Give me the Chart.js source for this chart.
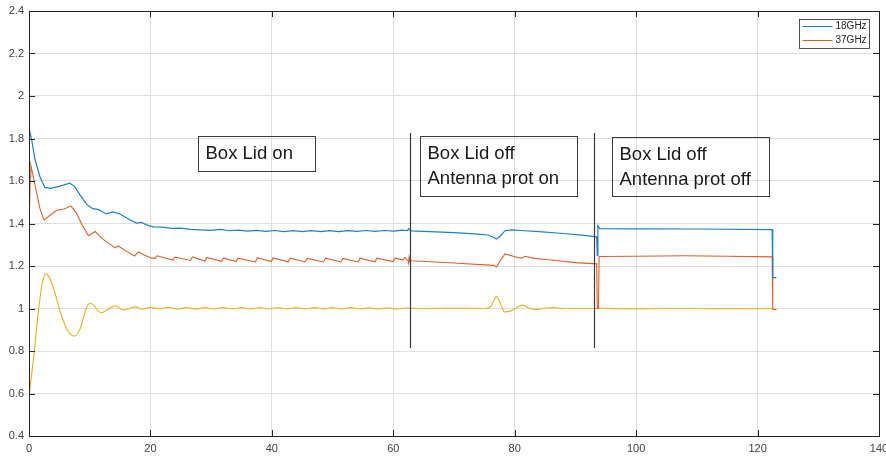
<!DOCTYPE html>
<html>
<head>
<meta charset="utf-8">
<script src="https://cdn.jsdelivr.net/npm/chart.js@4"></script>
<style>
  html, body { margin: 0; padding: 0; background: #fff; }
  #wrap { width: 886px; height: 456px; }
</style>
</head>
<body>
<div id="wrap"><canvas id="chart" width="886" height="456"></canvas></div>
<script>
// ------------------ Data ------------------
const xTicks = [0, 20, 40, 60, 80, 100, 120, 140];
const yTicks = [0.4, 0.6, 0.8, 1, 1.2, 1.4, 1.6, 1.8, 2, 2.2, 2.4];
const seriesNames = ["18GHz", "37GHz", ""];

// 18GHz (blue)
const blueX = [0, 0.4, 1, 1.8, 2.6, 3.5, 5, 6.7, 7.5, 8.5, 9.5, 10.5, 11.5, 12.7, 13.8, 15, 16.6, 17.7, 18.5, 19.5,
  20.5, 22, 23.5, 25, 26.5, 28.2, 30, 31.5, 33, 34.5, 36, 37.5, 39, 40.5, 42, 43.5, 45, 46.5, 48, 49.5,
  51, 52.5, 54, 55.5, 57, 58.5, 60, 61.5, 62.3, 62.5, 62.7, 63, 66, 70, 74, 75.6, 76.5, 77, 77.6, 78.4,
  79.5, 81, 84, 88, 91, 93.5, 93.6, 93.7, 94, 100, 110, 122.4, 122.5, 123.1];
const blueY = [1.85, 1.80, 1.70, 1.62, 1.57, 1.565, 1.575, 1.59, 1.575, 1.53, 1.49, 1.47, 1.465, 1.445, 1.455, 1.445, 1.418, 1.402, 1.405, 1.392,
  1.384, 1.383, 1.377, 1.378, 1.372, 1.37, 1.368, 1.372, 1.366, 1.369, 1.364, 1.368, 1.363, 1.367, 1.362, 1.366, 1.362, 1.366, 1.362, 1.366,
  1.362, 1.366, 1.363, 1.367, 1.363, 1.367, 1.364, 1.369, 1.366, 1.376, 1.368, 1.365, 1.362, 1.357, 1.35, 1.346, 1.335, 1.327, 1.34, 1.366,
  1.37, 1.367, 1.362, 1.353, 1.345, 1.337, 1.25, 1.39, 1.376, 1.375, 1.374, 1.371, 1.145, 1.145];

// 37GHz (orange)
const orangeX = [0, 0.05, 0.1, 0.2, 0.3, 1, 1.8, 2.5, 3.5, 4.6, 5.8, 6.9, 7.8, 8.8, 9.8, 10.9, 12, 13, 14.2, 14.7,
  16, 17.4, 18, 19, 20.2, 20.8, 21.1, 23.7, 24, 26.6, 26.9, 29, 29.3, 31.7, 32, 34.1, 34.4, 37.3, 37.6, 39.9,
  40.2, 42.7, 43, 45.5, 45.8, 48.5, 48.8, 51.4, 51.7, 54.2, 54.5, 57, 57.3, 60, 60.3, 61.6, 61.9, 62.4, 62.5, 62.6,
  62.7, 63, 70, 76.5, 77, 77.6, 78.4, 80.5, 81.2, 81.7, 83, 86, 90, 93.5, 93.6, 93.8, 93.9, 100, 108, 115,
  122.4, 122.5, 123.1];
const orangeY = [1.36, 2.22, 1.45, 1.62, 1.675, 1.58, 1.47, 1.416, 1.44, 1.462, 1.468, 1.483, 1.45, 1.39, 1.342, 1.362, 1.33, 1.31, 1.285, 1.294,
  1.27, 1.247, 1.266, 1.252, 1.237, 1.236, 1.248, 1.228, 1.242, 1.226, 1.243, 1.223, 1.24, 1.222, 1.238, 1.221, 1.237, 1.219, 1.239, 1.221,
  1.238, 1.22, 1.237, 1.219, 1.236, 1.219, 1.237, 1.219, 1.236, 1.219, 1.237, 1.22, 1.237, 1.221, 1.238, 1.228, 1.24, 1.226, 1.215, 1.242,
  1.228, 1.225, 1.214, 1.203, 1.195, 1.225, 1.257, 1.24, 1.237, 1.246, 1.237, 1.228, 1.216, 1.21, 1.0, 1.0, 1.245, 1.246, 1.248, 1.246,
  1.243, 0.995, 0.995];

// third trace (yellow, not in legend)
const yellowX = [0, 0.8, 1.6, 2.2, 2.7, 3.3, 4.2, 5.2, 6.3, 7.5, 8.5, 9.3, 10, 10.7, 11.3, 12, 13, 14.2, 15.5, 16.5,
  17.5, 18.7, 20, 21.5, 23, 24.5, 26, 27.5, 29, 30.5, 32, 33.5, 35, 36.5, 38, 39.5, 41, 42.5, 44, 45.5,
  47, 48.5, 50, 51.5, 53, 54.5, 56, 57.5, 59, 60.5, 62, 65, 70, 75, 76, 77, 77.7, 78.3, 79.5, 81.3,
  82.5, 83.4, 84.8, 86.3, 88, 93, 95, 100, 105, 110, 115, 122.4, 123.1];
const yellowY = [0.584, 0.78, 1.0, 1.12, 1.163, 1.15, 1.08, 0.98, 0.9, 0.87, 0.91, 0.99, 1.026, 1.015, 0.99, 0.98, 0.995, 1.013, 0.993, 1.0,
  1.008, 0.997, 1.005, 0.998, 1.005, 0.997, 1.004, 0.997, 1.004, 0.998, 1.004, 0.998, 1.004, 0.998, 1.004, 0.998, 1.004, 0.998, 1.004, 0.998,
  1.004, 0.998, 1.004, 0.998, 1.004, 0.998, 1.003, 0.998, 1.003, 0.998, 1.002, 1.0, 1.001, 1.0, 1.008, 1.056, 1.02, 0.984, 0.99, 1.016,
  1.0, 0.995, 1.0, 1.004, 1.0, 1.0, 1.001, 0.998, 1.0, 1.0, 0.999, 1.0, 0.992];

// ------------------ Annotations (data coordinates) ------------------
const noteText = [["Box Lid on"], ["Box Lid off", "Antenna prot on"], ["Box Lid off", "Antenna prot off"]];
const noteLeft = [27.8, 64.4, 96.0];
const noteRight = [47.1, 90.3, 121.9];
const noteTop = [1.812, 1.812, 1.807];
const noteBottom = [1.647, 1.529, 1.529];
const markerX = [62.8, 93.0];
const markerTop = 1.826;
const markerBottom = 0.814;

function toPoints(xs, ys) {
    const pts = [];
    for (let i = 0; i < xs.length; i++) {
        pts.push({ x: xs[i], y: ys[i] });
    }
    return pts;
}

const colors = ["#1f80c0", "#d9612e", "#e9b52a"];
const axisColor = "#262626";

// ------------------ Plugin: box, inside ticks, notes, legend ------------------
const matlabLook = {
    id: "matlabLook",
    afterDatasetsDraw(chart) {
        const ctx = chart.ctx;
        const a = chart.chartArea;
        const xs = chart.scales.x;
        const ys = chart.scales.y;

        // marker lines and note boxes
        ctx.save();
        ctx.strokeStyle = "#3a3a3a";
        ctx.lineWidth = 1.2;
        markerX.forEach((mx) => {
            const px = Math.round(xs.getPixelForValue(mx)) + 0.5;
            ctx.beginPath();
            ctx.moveTo(px, ys.getPixelForValue(markerTop));
            ctx.lineTo(px, ys.getPixelForValue(markerBottom));
            ctx.stroke();
        });
        ctx.lineWidth = 1;
        ctx.font = "18.5px 'Liberation Sans', Arial, sans-serif";
        ctx.fillStyle = "#1a1a1a";
        ctx.textBaseline = "middle";
        ctx.textAlign = "left";
        for (let i = 0; i < noteText.length; i++) {
            const l = Math.round(xs.getPixelForValue(noteLeft[i])) + 0.5;
            const r = Math.round(xs.getPixelForValue(noteRight[i])) + 0.5;
            const t = Math.round(ys.getPixelForValue(noteTop[i])) + 0.5;
            const b = Math.round(ys.getPixelForValue(noteBottom[i])) + 0.5;
            ctx.strokeRect(l, t, r - l, b - t);
            noteText[i].forEach((line, j) => {
                ctx.fillText(line, l + 7, t + 17 + j * 25);
            });
        }
        ctx.restore();

        // axes box and inside ticks
        ctx.save();
        ctx.strokeStyle = axisColor;
        ctx.lineWidth = 1;
        ctx.strokeRect(Math.round(a.left) + 0.5, Math.round(a.top) + 0.5, Math.round(a.right - a.left), Math.round(a.bottom - a.top));
        ctx.beginPath();
        xTicks.forEach((v) => {
            const px = Math.round(xs.getPixelForValue(v)) + 0.5;
            ctx.moveTo(px, a.bottom); ctx.lineTo(px, a.bottom - 6);
            ctx.moveTo(px, a.top); ctx.lineTo(px, a.top + 6);
        });
        yTicks.forEach((v) => {
            const py = Math.round(ys.getPixelForValue(v)) + 0.5;
            ctx.moveTo(a.left, py); ctx.lineTo(a.left + 6, py);
            ctx.moveTo(a.right, py); ctx.lineTo(a.right - 6, py);
        });
        ctx.stroke();
        ctx.restore();

        // legend (top right, inside the axes)
        ctx.save();
        const lw = 70, lh = 29;
        const lx = Math.round(a.right - 10 - lw) + 0.5;
        const ly = Math.round(a.top + 8) + 0.5;
        ctx.fillStyle = "#fff";
        ctx.fillRect(lx, ly, lw, lh);
        ctx.strokeStyle = axisColor;
        ctx.lineWidth = 0.8;
        ctx.strokeRect(lx, ly, lw, lh);
        ctx.font = "10px 'Liberation Sans', Arial, sans-serif";
        ctx.textBaseline = "middle";
        ctx.fillStyle = axisColor;
        chart.data.datasets.forEach((ds, i) => {
            if (!ds.label) return;
            const rowY = ly + 7 + i * 14;
            ctx.strokeStyle = ds.borderColor;
            ctx.lineWidth = 1;
            ctx.beginPath();
            ctx.moveTo(lx + 3, rowY);
            ctx.lineTo(lx + 33, rowY);
            ctx.stroke();
            ctx.fillText(ds.label, lx + 36, rowY);
        });
        ctx.restore();
    }
};

const ctx = document.getElementById("chart").getContext("2d");
const myChart = new Chart(ctx, {
    type: "line",
    data: {
        datasets: [
            { label: seriesNames[0], data: toPoints(blueX, blueY), borderColor: colors[0], borderWidth: 1.2, pointRadius: 0, tension: 0 },
            { label: seriesNames[1], data: toPoints(orangeX, orangeY), borderColor: colors[1], borderWidth: 1.1, pointRadius: 0, tension: 0 },
            { label: seriesNames[2], data: toPoints(yellowX, yellowY), borderColor: colors[2], borderWidth: 1.2, pointRadius: 0, cubicInterpolationMode: "monotone" }
        ]
    },
    options: {
        responsive: false,
        animation: false,
        events: [],
        layout: { padding: { top: 11, right: 7, left: 0, bottom: 0 } },
        plugins: { legend: { display: false }, tooltip: { enabled: false } },
        scales: {
            x: {
                type: "linear",
                min: 0,
                max: 140,
                afterBuildTicks: (scale) => { scale.ticks = xTicks.map((v) => ({ value: v })); },
                afterFit: (scale) => { scale.height = 20; scale.paddingLeft = 0; scale.paddingRight = 0; },
                grid: { color: "#dedede", lineWidth: 1, drawTicks: false },
                border: { display: false },
                ticks: {
                    padding: 6,
                    maxRotation: 0,
                    color: "#404040",
                    font: { family: "'Liberation Sans', Arial, sans-serif", size: 11 },
                    callback: (v) => String(v)
                }
            },
            y: {
                min: 0.4,
                max: 2.4,
                afterBuildTicks: (scale) => { scale.ticks = yTicks.map((v) => ({ value: v })); },
                afterFit: (scale) => { scale.width = 29; scale.paddingTop = 0; scale.paddingBottom = 0; },
                grid: { color: "#dedede", lineWidth: 1, drawTicks: false },
                border: { display: false },
                ticks: {
                    padding: 5,
                    color: "#404040",
                    font: { family: "'Liberation Sans', Arial, sans-serif", size: 11 },
                    callback: (v) => String(Number(v.toFixed(1)))
                }
            }
        }
    },
    plugins: [matlabLook]
});
</script>
</body>
</html>
